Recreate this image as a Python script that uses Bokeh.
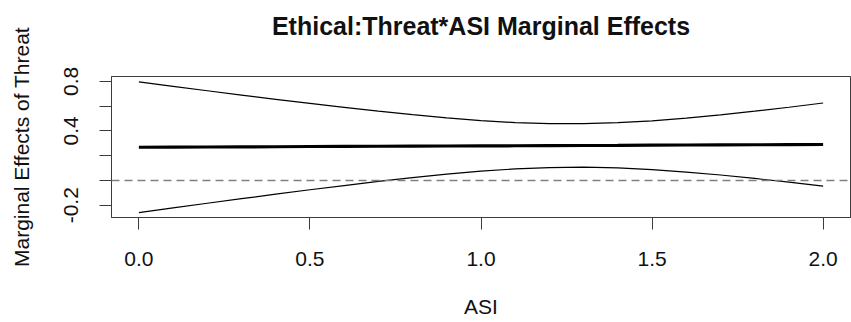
from bokeh.plotting import figure
from bokeh.models import Range1d, FixedTicker, Span, Title
from bokeh.embed import file_html
from bokeh.resources import INLINE

# Marginal effect of Threat across ASI, with its confidence band
asi = [0.0, 0.1, 0.2, 0.3, 0.4, 0.5, 0.6, 0.7, 0.8, 0.9, 1.0,
       1.1, 1.2, 1.3, 1.4, 1.5, 1.6, 1.7, 1.8, 1.9, 2.0]
effect = [0.268, 0.269, 0.270, 0.271, 0.272, 0.274, 0.275, 0.276, 0.277, 0.278, 0.279,
          0.280, 0.281, 0.282, 0.283, 0.285, 0.286, 0.287, 0.288, 0.289, 0.290]
upper = [0.795, 0.760, 0.724, 0.689, 0.655, 0.622, 0.590, 0.559, 0.531, 0.505, 0.483,
         0.467, 0.458, 0.458, 0.466, 0.481, 0.503, 0.530, 0.559, 0.591, 0.625]
lower = [-0.259, -0.222, -0.184, -0.147, -0.111, -0.075, -0.041, -0.008, 0.023, 0.051, 0.075,
         0.093, 0.104, 0.107, 0.101, 0.088, 0.068, 0.044, 0.016, -0.014, -0.045]

x_ticks = [0.0, 0.5, 1.0, 1.5, 2.0]
x_tick_labels = ["0.0", "0.5", "1.0", "1.5", "2.0"]
y_ticks = [-0.2, 0.0, 0.2, 0.4, 0.6, 0.8]
y_tick_labels = ["-0.2", "", "", "0.4", "", "0.8"]

FONT = "Liberation Sans"
INK = "#111111"
FRAME = "#3c3c3c"

p = figure(width=851, height=322, output_backend="svg", toolbar_location=None,
           x_range=Range1d(-0.08, 2.08), y_range=Range1d(-0.299, 0.839),
           min_border_left=111, min_border_right=1, min_border_top=76, min_border_bottom=105,
           title=None)

p.background_fill_color = "white"
p.border_fill_color = "white"
p.outline_line_color = FRAME
p.outline_line_width = 1
p.xgrid.visible = False
p.ygrid.visible = False

# blank band between the frame and the heading, then the heading itself
p.add_layout(Title(text=" ", text_font_size="10px", standoff=24), "above")
p.add_layout(Title(text="Ethical:Threat*ASI Marginal Effects", align="center",
                   text_font=FONT, text_font_size="25px", text_font_style="bold",
                   text_color=INK, standoff=0), "above")

for ax in (p.xaxis[0], p.yaxis[0]):
    ax.axis_line_color = FRAME
    ax.major_tick_line_color = FRAME
    ax.major_tick_out = 12
    ax.major_tick_in = 0
    ax.minor_tick_out = 0
    ax.minor_tick_in = 0
    ax.major_label_text_font = FONT
    ax.major_label_text_font_size = "21px"
    ax.major_label_text_color = INK
    ax.axis_label_text_font = FONT
    ax.axis_label_text_font_size = "21px"
    ax.axis_label_text_font_style = "normal"
    ax.axis_label_text_color = INK

p.xaxis.ticker = FixedTicker(ticks=x_ticks)
p.xaxis.major_label_overrides = dict(zip(x_ticks, x_tick_labels))
p.xaxis.axis_label = "ASI"
p.xaxis.major_label_standoff = 22
p.xaxis.axis_label_standoff = 26

p.yaxis.ticker = FixedTicker(ticks=y_ticks)
p.yaxis.major_label_overrides = dict(zip(y_ticks, y_tick_labels))
p.yaxis.major_label_orientation = "vertical"
p.yaxis.axis_label = "Marginal Effects of Threat"
p.yaxis.major_label_standoff = 21
p.yaxis.axis_label_standoff = 29

# reference line at zero
p.add_layout(Span(location=0, dimension="width", line_color="#808080",
                  line_width=1.5, line_dash="8 5"))

# confidence bounds and the estimate
p.line(asi, upper, line_color="black", line_width=1.2)
p.line(asi, lower, line_color="black", line_width=1.2)
p.line(asi, effect, line_color="black", line_width=3.2)

open("out.html", "w").write(file_html(p, INLINE))
